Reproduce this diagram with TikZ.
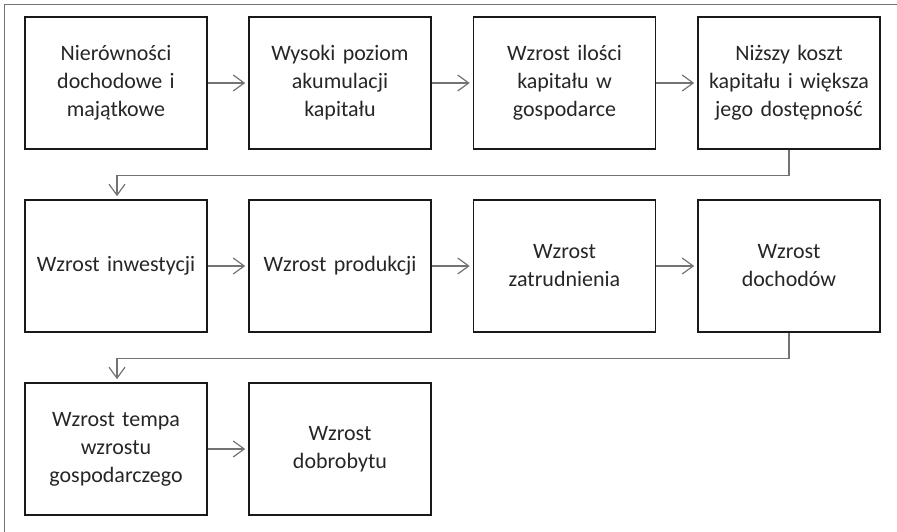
\documentclass[tikz,border=0pt]{standalone}
\usepackage{fontspec}
\setmainfont{Carlito}
\usetikzlibrary{arrows.meta}
\begin{document}
\begin{tikzpicture}[x=1pt,y=-1pt,
  box/.style={draw=black!90,line width=1.6pt,minimum width=182pt,minimum height=132pt,
    inner sep=2pt,align=center,text width=176pt,
    font=\fontsize{22}{28}\selectfont,text=black!85},
  conn/.style={draw=black!55,line width=1.4pt,
    -{Straight Barb[length=11pt,width=16pt,line width=1.2pt]},shorten >=3pt},
  frame/.style={draw=black!55,line width=1.2pt}]
\useasboundingbox (0,0) rectangle (897,532);
\draw[frame] (4.5,532) -- (4.5,4.5) -- (897,4.5);
\node[box] (a1) at (116,83) {Nierówności\\dochodowe i\\majątkowe};
\node[box] (a2) at (340,83) {Wysoki poziom\\akumulacji\\kapitału};
\node[box] (a3) at (564.5,83) {Wzrost ilości\\kapitału w\\gospodarce};
\node[box] (a4) at (789,83) {Niższy koszt\\kapitału i większa\\jego dostępność};
\node[box] (b1) at (116,266) {Wzrost inwestycji};
\node[box] (b2) at (340,266) {Wzrost produkcji};
\node[box] (b3) at (564.5,266) {Wzrost\\zatrudnienia\\[14pt]};
\node[box] (b4) at (789,266) {Wzrost\\dochodów\\[14pt]};
\node[box] (c1) at (116,449) {Wzrost tempa\\wzrostu\\gospodarczego};
\node[box] (c2) at (340,449) {Wzrost\\dobrobytu};
\coordinate (k1) at (789,175.5);
\coordinate (k2) at (117,175.5);
\coordinate (k3) at (789,358.5);
\coordinate (k4) at (117,358.5);
\draw[conn] (a1) -- (a2);
\draw[conn] (a2) -- (a3);
\draw[conn] (a3) -- (a4);
\draw[conn] (a4.south) -- (k1) -- (k2) -- (k2 |- b1.north);
\draw[conn] (b1) -- (b2);
\draw[conn] (b2) -- (b3);
\draw[conn] (b3) -- (b4);
\draw[conn] (b4.south) -- (k3) -- (k4) -- (k4 |- c1.north);
\draw[conn] (c1) -- (c2);
\end{tikzpicture}
\end{document}
